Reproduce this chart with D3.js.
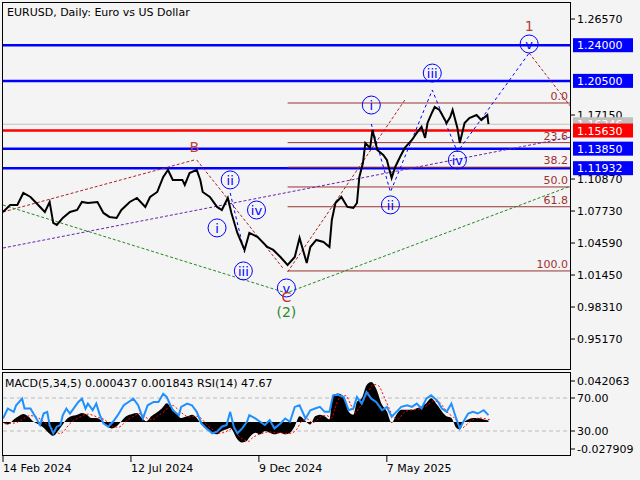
<!DOCTYPE html>
<html><head><meta charset="utf-8">
<script src="https://cdn.jsdelivr.net/npm/d3@7"></script>
<style>body{margin:0;background:#fff}svg{display:block}text{font-family:"DejaVu Sans",sans-serif}</style>
</head><body>
<svg id="c" width="640" height="480"></svg>
<script>
// ---- data (bar index = trading day from 14 Feb 2024) ----
const priceBars=[0,6,12,17,23,27,31,35,39,42,45,50,56,62,66,71,79,84,89,95,99,106,112,119,123,129,134,138,142,150,152,156,162,165,167,173,179,183,188,191,196,202,206,213,221,226,232,238,244,248,254,257,262,268,273,275,278,283,288,293,296,298,301,303,307,309,313,318,321,325,328,332,336,342,346,350,353,355,359,361,365,371,374,376,380,382,386,390,396,400,405,406];
const priceVals=[1.0764,1.0832,1.0832,1.0950,1.0911,1.0862,1.0813,1.0764,1.0862,1.0656,1.0636,1.0705,1.0764,1.0783,1.0862,1.0852,1.0862,1.0754,1.0715,1.0705,1.0783,1.0862,1.0901,1.0813,1.0911,1.0960,1.1107,1.1176,1.1078,1.1078,1.1029,1.1146,1.1176,1.1078,1.0960,1.0911,1.0813,1.0783,1.0901,1.0754,1.0558,1.0391,1.0558,1.0518,1.0420,1.0391,1.0322,1.0244,1.0322,1.0509,1.0263,1.0420,1.0489,1.0469,1.0420,1.0685,1.0852,1.0911,1.0813,1.0803,1.0852,1.1107,1.1244,1.1441,1.1392,1.1568,1.1372,1.1323,1.1274,1.1097,1.1205,1.1303,1.1392,1.1470,1.1539,1.1598,1.1490,1.1637,1.1745,1.1794,1.1764,1.1637,1.1696,1.1764,1.1588,1.1441,1.1637,1.1686,1.1715,1.1666,1.1715,1.1625];
const rsiBars=[0,4,9,11,16,18,23,27,31,34,37,39,42,45,48,50,53,56,59,63,66,69,71,75,78,81,84,88,92,96,101,105,109,113,117,121,126,130,134,137,140,142,147,149,154,158,162,166,170,175,179,183,187,190,193,196,200,204,206,211,215,219,223,227,232,236,240,244,248,253,257,261,265,269,273,276,280,285,289,293,296,300,304,308,312,317,321,325,329,333,338,342,346,350,354,358,363,367,371,375,379,382,385,389,393,397,402,406];
const rsiVals=[45.2,57.2,53.2,61.2,69.2,57.2,57.2,47.2,37.2,51.2,53.2,37.2,27.2,35.2,37.2,49.2,57.2,51.2,57.2,65.2,69.2,57.2,63.2,55.2,63.2,49.2,39.2,35.2,41.2,49.2,61.2,65.2,69.2,61.2,45.2,61.2,65.2,65.2,75.2,71.2,61.2,55.2,49.2,59.2,63.2,61.2,53.2,39.2,33.2,27.2,29.2,35.2,37.2,53.2,35.2,27.2,33.2,41.2,49.2,45.2,41.2,37.2,43.2,33.2,39.2,45.2,41.2,59.2,61.2,45.2,55.2,57.2,59.2,53.2,53.2,73.2,74,71.2,55.2,57.2,71.2,63.2,77.2,69.2,65.2,55.2,59.2,47.2,53.2,59.2,61.2,59.2,63.2,57.2,69.2,73.2,67.2,57.2,53.2,63.2,45.2,33.2,41.2,51.2,53.2,51.2,55.2,49.2];
const macdBars=[0,4,9,13,17,21,25,30,34,38,42,46,50,53,57,62,66,70,74,78,83,87,91,95,99,103,108,112,116,120,124,128,133,137,140,144,149,154,158,162,166,170,175,179,183,187,190,193,195,200,204,206,211,215,219,223,227,232,236,240,244,248,253,257,261,265,269,273,276,280,285,289,293,296,300,304,308,312,317,321,325,329,333,338,342,346,350,354,358,363,367,371,375,379,382,385,389,393,397,402,406];
const macdVals=[-1.0,-2.7,2.4,5.7,8.1,5.7,0.7,-2.7,-6.0,-11.1,-14.4,-9.4,-2.7,2.4,5.7,7.4,9.1,7.4,4.0,4.0,0.7,-4.4,-6.7,-4.4,0.7,5.7,8.1,9.1,4.0,0.7,5.7,9.1,14.1,19.2,15.8,10.8,4.0,5.7,7.4,4.0,-2.7,-7.7,-11.1,-12.8,-9.4,-7.7,-6.0,-11.1,-16.1,-21.2,-19.5,-16.1,-11.1,-12.8,-9.4,-11.1,-12.8,-11.1,-12.8,-11.1,-4.4,5.7,0.7,-2.7,5.7,7.4,5.7,2.4,27.6,29.2,25.9,10.8,7.4,20.8,24.2,37.6,41.0,34.3,17.5,10.8,-1.0,7.4,12.4,12.4,12.4,14.1,15.8,19.2,24.2,17.5,10.8,5.7,4.0,-6.0,-7.7,-1.0,2.4,4.0,4.0,2.4,1.3];
const signalVals=[-2.0,-1.5,-1.0,1.5,4.5,6.5,5.5,2.5,-1.5,-5.0,-9.5,-12.0,-8.5,-3.5,1.0,4.5,7.0,8.0,6.5,4.5,2.5,-1.5,-5.0,-5.5,-2.0,2.5,6.0,8.5,6.5,3.0,2.5,6.5,10.5,15.5,17.0,13.5,8.0,5.0,6.0,5.5,1.0,-4.5,-9.0,-11.5,-11.0,-8.5,-7.0,-9.0,-13.5,-18.5,-20.0,-17.5,-13.5,-12.0,-10.5,-10.5,-11.5,-11.5,-12.0,-11.5,-7.5,0.5,3.0,-1.0,2.0,6.0,6.5,4.0,14.0,25.0,27.0,18.0,9.5,14.0,21.5,31.0,38.5,37.5,26.0,14.5,4.5,3.0,9.0,12.0,12.5,13.0,15.0,17.5,21.5,20.5,14.5,8.5,5.0,-1.0,-6.5,-4.0,0.5,3.0,4.0,3.2,2.0];
const yTicks=[1.26570,1.17150,1.10870,1.07730,1.04590,1.01450,0.98310,0.95170];
const dateTicks=[0,107,214,321];
const dateLabels=["14 Feb 2024","12 Jul 2024","9 Dec 2024","7 May 2025"];
const levelsBlue=[1.24000,1.20500,1.13850,1.11932];
const levelRed=1.15630, currentPrice=1.16246;
const fibNames=["0.0","23.6","38.2","50.0","61.8","100.0"];
const fibVals=[1.1833,1.1444,1.1203,1.1009,1.0815,1.0185];
const fibStart=238;
const redChannel=[[0,1.0764],[160,1.1274]];
const redBC=[[162,1.1274],[234,1.0214]];
const redRise=[[238,1.0175],[336,1.1862]];
const purpleLine=[[0,1.0410],[475,1.1499]];
const greenLine=[[0,1.0832],[237,0.9969],[475,1.1019]];
const blueLower=[[190,1.0950],[202,1.0362]];
const blueUpper=[[308,1.1627],[324,1.0960],[359,1.1960],[380,1.1352],[440,1.2323]];
const redProj=[[440,1.2323],[475,1.1794]];
const waveLabels=[["i",179,1.0607],["ii",190,1.1078],["iii",201,1.0185],["iv",212,1.0783],["v",237,1.0018],
 ["i",308,1.1813],["ii",324,1.0833],["iii",359,1.2127],["iv",380,1.1274],["v",440,1.2412]];

// ---- drawing ----
const svg=d3.select("#c");
svg.append("rect").attr("width",640).attr("height",480).attr("fill","#f4f4f4");
const x=d3.scaleLinear().domain([0,475]).range([3,571]);
const y=d3.scaleLinear().domain([0.9213,1.2824]).range([370,2]);
const yr=d3.scaleLinear().domain([30,70]).range([431,398]);
const ym=d3.scaleLinear().domain([-27.909,42.063]).range([449,381]);
const line=d3.line().x(d=>x(d[0])).y(d=>y(d[1]));
const main=svg.append("g");
main.append("defs").append("clipPath").attr("id","cp").append("rect").attr("x",2).attr("y",2).attr("width",569).attr("height",368);
const g=main.append("g").attr("clip-path","url(#cp)");

g.append("line").attr("x1",3).attr("x2",571).attr("y1",y(currentPrice)).attr("y2",y(currentPrice)).attr("stroke","#c0c0c0");
levelsBlue.forEach(v=>g.append("line").attr("x1",3).attr("x2",571).attr("y1",y(v)).attr("y2",y(v)).attr("stroke","#0000ff").attr("stroke-width",2.5));
g.append("line").attr("x1",3).attr("x2",571).attr("y1",y(levelRed)).attr("y2",y(levelRed)).attr("stroke","#ff0000").attr("stroke-width",2.5);
fibVals.forEach((v,i)=>{
  g.append("line").attr("x1",x(fibStart)).attr("x2",571).attr("y1",y(v)).attr("y2",y(v)).attr("stroke","#993333");
  g.append("text").attr("x",568).attr("y",y(v)-3).attr("text-anchor","end").attr("font-size",11).attr("fill","#a03030").text(fibNames[i]);
});
const dl=(pts,col,dash)=>g.append("path").attr("d",line(pts)).attr("fill","none").attr("stroke",col).attr("stroke-dasharray",dash||"3,2");
dl(redChannel,"#aa2222");dl(redBC,"#aa2222");dl(redRise,"#aa2222");
dl(purpleLine,"#6622aa");dl(greenLine,"#228822");
dl(blueLower,"#0000ff","3,3");dl(blueUpper,"#0000ff","3,3");dl(redProj,"#aa2222");
const pts=priceBars.map((b,i)=>[b,priceVals[i]]);
g.append("path").attr("d",line(pts)).attr("fill","none").attr("stroke","#000").attr("stroke-width",2);
waveLabels.forEach(w=>{
  const cx=x(w[1]),cy=y(w[2]);
  g.append("circle").attr("cx",cx).attr("cy",cy).attr("r",9).attr("fill","none").attr("stroke","#0000ff");
  g.append("text").attr("x",cx).attr("y",cy+5).attr("text-anchor","middle").attr("font-size",13).attr("fill","#0000ff").text(w[0]);
});
const lab=(t,b,p,col)=>g.append("text").attr("x",x(b)).attr("y",y(p)+5).attr("text-anchor","middle").attr("font-size",14).attr("fill",col).text(t);
lab("1",440,1.2588,"#b04040");lab("B",160,1.1401,"#c04040");lab("C",237,0.9925,"#c03030");lab("(2)",237,0.9783,"#2a8a2a");

yTicks.forEach(v=>{
  svg.append("line").attr("x1",571).attr("x2",575).attr("y1",y(v)).attr("y2",y(v)).attr("stroke","#000");
  svg.append("text").attr("x",577).attr("y",y(v)+4).attr("font-size",11).attr("fill","#000").text(v.toFixed(5));
});
const box=(v,fill,tc)=>{
  svg.append("rect").attr("x",573).attr("y",y(v)-7).attr("width",60).attr("height",14).attr("fill",fill);
  svg.append("text").attr("x",577).attr("y",y(v)+4).attr("font-size",11).attr("fill",tc).text(v.toFixed(5));
};
box(currentPrice,"#c0c0c0","#fff");
levelsBlue.forEach(v=>box(v,"#0000ff","#fff"));
box(levelRed,"#ff0000","#fff");
svg.append("text").attr("x",7).attr("y",16).attr("font-size",11).text("EURUSD, Daily:  Euro vs US Dollar");
svg.append("rect").attr("x",2.5).attr("y",2.5).attr("width",568).attr("height",367).attr("fill","none").attr("stroke","#000");

const ig=svg.append("g");
[70,30].forEach(v=>ig.append("line").attr("x1",3).attr("x2",571).attr("y1",yr(v)).attr("y2",yr(v)).attr("stroke","#bbb").attr("stroke-dasharray","4,3"));
const mpts=macdBars.map((b,i)=>[b,macdVals[i]]);
ig.append("path").attr("d",d3.area().x(d=>x(d[0])).y0(ym(0)).y1(d=>ym(d[1])).curve(d3.curveMonotoneX)(mpts)).attr("fill","#000");
const spts=macdBars.map((b,i)=>[b,signalVals[i]]);
ig.append("path").attr("d",d3.line().x(d=>x(d[0])+2).y(d=>ym(d[1])).curve(d3.curveMonotoneX)(spts)).attr("fill","none").attr("stroke","#ff0000").attr("stroke-dasharray","2,2");
const rpts=rsiBars.map((b,i)=>[b,rsiVals[i]]);
ig.append("path").attr("d",d3.line().x(d=>x(d[0])).y(d=>yr(d[1]))(rpts)).attr("fill","none").attr("stroke","#1e90ff").attr("stroke-width",2);
ig.append("rect").attr("x",2.5).attr("y",372.5).attr("width",568).attr("height",83).attr("fill","none").attr("stroke","#000");
ig.append("text").attr("x",5).attr("y",387).attr("font-size",11).text("MACD(5,34,5) 0.000437 0.001843 RSI(14) 47.67");
[[42.063,"0.042063"],[-27.909,"-0.027909"]].forEach(d=>{
  ig.append("line").attr("x1",571).attr("x2",575).attr("y1",ym(d[0])).attr("y2",ym(d[0])).attr("stroke","#000");
  ig.append("text").attr("x",577).attr("y",ym(d[0])+4).attr("font-size",11).text(d[1]);});
[70,30].forEach(v=>{ig.append("line").attr("x1",571).attr("x2",575).attr("y1",yr(v)).attr("y2",yr(v)).attr("stroke","#000");
  ig.append("text").attr("x",577).attr("y",yr(v)+4).attr("font-size",11).text(v.toFixed(2));});
dateTicks.forEach((b,i)=>{
  svg.append("line").attr("x1",x(b)).attr("x2",x(b)).attr("y1",456).attr("y2",462).attr("stroke","#000");
  svg.append("text").attr("x",x(b)).attr("y",472).attr("font-size",11).text(dateLabels[i]);
});
</script>
</body></html>
